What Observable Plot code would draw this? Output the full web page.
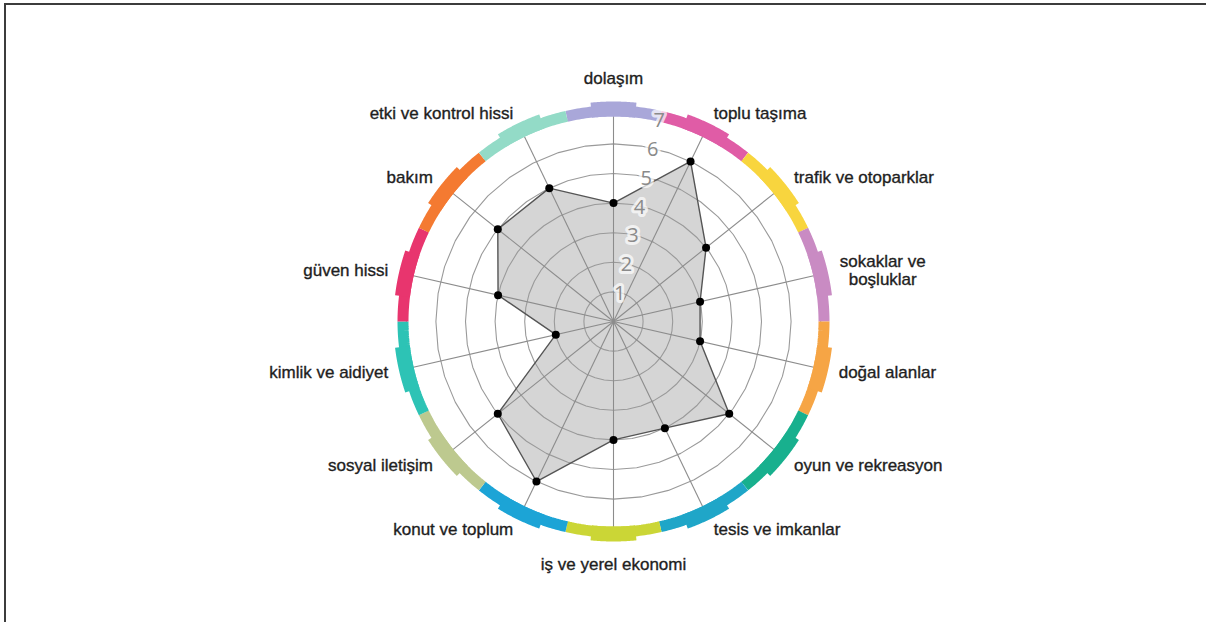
<!DOCTYPE html>
<html>
<head>
<meta charset="utf-8">
<script src="https://cdn.jsdelivr.net/npm/d3@7"></script>
<script src="https://cdn.jsdelivr.net/npm/@observablehq/plot@0.6"></script>
<style>
  html, body { margin: 0; padding: 0; background: #fff; width: 1206px; height: 622px; overflow: hidden; }
  #chart { position: absolute; left: 0; top: 0; }
  #frame { position: absolute; left: 4px; top: 3px; width: 1300px; height: 700px;
           border-top: 2px solid #3c3c3c; border-left: 2px solid #3c3c3c; pointer-events: none; }
</style>
</head>
<body>
<div id="chart"></div>
<div id="frame"></div>
<script>
const categories = [
  "dolaşım", "toplu taşıma", "trafik ve otoparklar", "sokaklar ve\nboşluklar",
  "doğal alanlar", "oyun ve rekreasyon", "tesis ve imkanlar", "iş ve yerel ekonomi",
  "konut ve toplum", "sosyal iletişim", "kimlik ve aidiyet", "güven hissi",
  "bakım", "etki ve kontrol hissi"
];
const values = [4, 6, 4, 3, 3, 5, 4, 4, 6, 5, 2, 4, 5, 5];
const segmentColors = [
  "#a9a7d9", "#e05ca6", "#f8d53e", "#c98bc3", "#f6a545", "#18b08e", "#1fa6c8",
  "#cbd636", "#1ca4d6", "#bdc98f", "#2dc3b5", "#e8356e", "#f47a31", "#93dbc7"
];
const tickValues = [1, 2, 3, 4, 5, 6, 7];

// layout (pixels)
const W = 1206, H = 622, cx = 613, cy = 321, k = 29.6;
const n = categories.length;
const ang = i => i * 2 * Math.PI / n;
const maxV = 7;

// helper geometry in data units (y up)
const P = (r, a) => ({x: r * Math.sin(a), y: r * Math.cos(a)});
const arc = (r, a0, a1, id, extra) => {
  const pts = [];
  const steps = 40;
  for (let s = 0; s <= steps; s++) pts.push({...P(r, a0 + (a1 - a0) * s / steps), id, ...extra});
  return pts;
};

const ringPts = tickValues.flatMap(v => arc(v, 0, 2 * Math.PI, v));
const spokes = categories.map((c, i) => {
  const e = P(maxV + 0.05, ang(i));
  return {x1: 0, y1: 0, x2: e.x, y2: e.y};
});
const poly = values.map((v, i) => ({...P(v, ang(i)), v, c: categories[i]}));

const half = Math.PI / n;
const bandBase = categories.flatMap((c, i) => arc(210.5 / k, ang(i) - half, ang(i) + half, i, {col: segmentColors[i]}));
const rais = 6 * Math.PI / 180;
const bandRaised = categories.flatMap((c, i) => arc(212.5 / k, ang(i) - rais, ang(i) + rais, i, {col: segmentColors[i]}));

const tickLabels = tickValues.map(v => ({...P(v - 0.04, half), t: String(v)}));

const labels = categories.map((c, i) => {
  const a = ang(i);
  const s = Math.sin(a);
  const anchor = Math.abs(s) < 0.1 ? "middle" : (s > 0 ? "start" : "end");
  const R = (anchor === "middle" ? 243 : 231) / k;
  return {...P(R, a), c, anchor};
});

const labelStyle = {
  fontSize: 17, fill: "#1e1e1e", stroke: "#1e1e1e", strokeWidth: 0.35,
  fontFamily: "Liberation Sans, Arial, sans-serif"
};
const labelMark = (anchor) => Plot.text(labels.filter(d => d.anchor === anchor && !d.c.includes("\n")), {
  x: "x", y: "y", text: "c", textAnchor: anchor, ...labelStyle
});

const chart = Plot.plot({
  width: W, height: H,
  marginTop: 0, marginRight: 0, marginBottom: 0, marginLeft: 0,
  x: {domain: [-cx / k, (W - cx) / k], range: [0, W], axis: null},
  y: {domain: [-(H - cy) / k, cy / k], range: [H, 0], axis: null},
  color: {type: "identity"},
  style: {background: "transparent"},
  marks: [
    Plot.line(poly, {x: "x", y: "y", curve: "linear-closed", fill: "#d5d5d5", stroke: "none"}),
    Plot.line(ringPts, {x: "x", y: "y", z: "id", stroke: "#9a9a9a", strokeWidth: 1.1}),
    Plot.link(spokes, {x1: "x1", y1: "y1", x2: "x2", y2: "y2", stroke: "#8c8c8c", strokeWidth: 1.1}),
    Plot.line(poly, {x: "x", y: "y", curve: "linear-closed", fill: "none", stroke: "#555", strokeWidth: 1.4}),
    Plot.dot(poly, {x: "x", y: "y", r: 4, fill: "#000", stroke: "none"}),
    Plot.line(bandBase, {x: "x", y: "y", z: "id", stroke: "col", strokeWidth: 11, strokeLinecap: "butt", strokeLinejoin: "miter"}),
    Plot.line(bandRaised, {x: "x", y: "y", z: "id", stroke: "col", strokeWidth: 15, strokeLinecap: "butt", strokeLinejoin: "miter"}),
    Plot.text(tickLabels, {x: "x", y: "y", text: "t", fontSize: 20, fill: "#8a8a8a",
      stroke: "white", strokeWidth: 6, strokeOpacity: 0.7, paintOrder: "stroke", textAnchor: "middle",
      fontFamily: "Open Sans, Liberation Sans, sans-serif"}),
    labelMark("start"),
    labelMark("end"),
    labelMark("middle"),
    Plot.text(labels.filter(d => d.c.includes("\n")), {
      x: "x", y: "y", text: "c", textAnchor: "middle", dx: 44, lineHeight: 1.05, ...labelStyle
    })
  ]
});
document.getElementById("chart").appendChild(chart);
</script>
</body>
</html>
